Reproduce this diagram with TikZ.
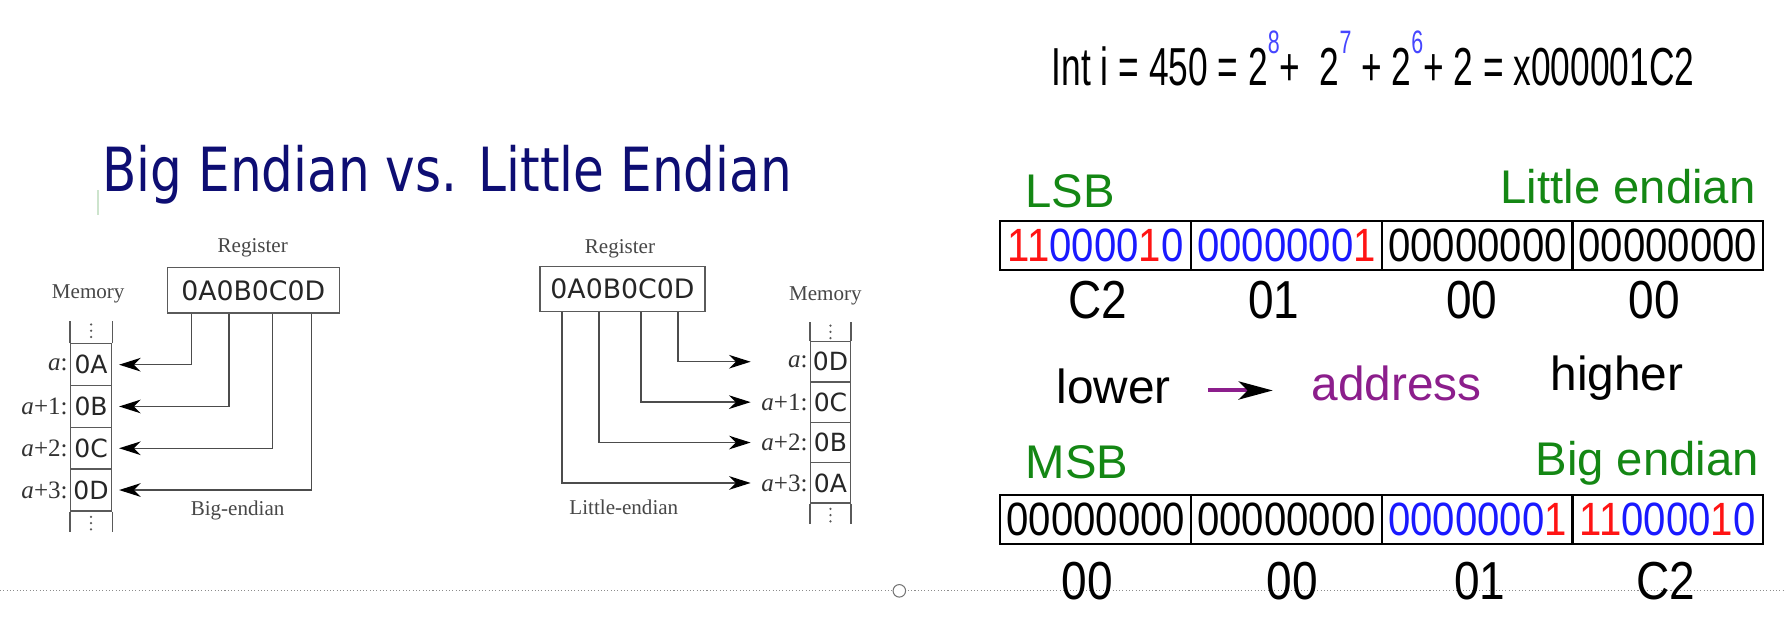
\documentclass[tikz,border=0pt]{standalone}
\usepackage{fontspec}
\setmainfont{Liberation Serif}
\newfontfamily\titlefont[FakeStretch=0.822]{DejaVu Sans}
\newfontfamily\vera{DejaVu Sans}
\newfontfamily\arial{Liberation Sans}
\newfontfamily\arialn[FakeStretch=0.86]{Liberation Sans}
\newfontfamily\eqfont[FakeStretch=0.66]{Liberation Sans}
\usetikzlibrary{arrows.meta}

\definecolor{navy}{RGB}{14,14,115}
\definecolor{lsbgreen}{RGB}{20,135,20}
\definecolor{bitred}{RGB}{255,20,20}
\definecolor{bitblue}{RGB}{25,25,255}
\definecolor{supblue}{RGB}{70,70,255}
\definecolor{addrpurple}{RGB}{140,30,140}
\definecolor{diagray}{RGB}{90,90,90}
\definecolor{artgreen}{RGB}{205,228,205}

\newcommand{\fsz}[1]{\fontsize{#1}{#1}\selectfont}
\newcommand{\bitR}[1]{\textcolor{bitred}{#1}}
\newcommand{\bitB}[1]{\textcolor{bitblue}{#1}}
\newcommand{\supnum}[1]{\raisebox{28pt}{\fsz{28.5}\textcolor{supblue}{#1}}}

\tikzset{
  txt/.style={inner sep=0pt, outer sep=0pt},
  serlbl/.style={txt, anchor=base, font=\fsz{18.5}, text=black!72},
  regbox/.style={draw=diagray, line width=1.3pt, inner sep=0pt, minimum height=40pt, font=\vera\fsz{23.5}, text=black!85},
  memcell/.style={draw=diagray, line width=1.2pt, inner sep=0pt, font=\vera\fsz{22}, text=black!85},
  addrlbl/.style={txt, anchor=east, font=\fsz{22}, text=black!80},
  colline/.style={draw=diagray, line width=1.2pt},
  dotc/.style={fill=black!65, draw=none},
  conn/.style={draw=black!70, line width=1.3pt, -{Stealth[length=19pt,width=12pt,inset=6pt,color=black]}},
  grn/.style={txt, font=\arial\fsz{41.5}, text=lsbgreen},
  word/.style={txt, font=\arial\fsz{42}},
  bitcell/.style={draw=black, line width=1.7pt, inner sep=0pt, minimum width=167.5pt, minimum height=43pt, font=\arialn\fsz{41}},
  bytelbl/.style={txt, anchor=base, font=\arialn\fsz{47}},
}

\begin{document}
\begin{tikzpicture}[x=1pt,y=-1pt]
\fill[white] (0,0) rectangle (1568,547.3);
\useasboundingbox (0,0) rectangle (1568,547.3);

% separator line and knob
\draw[black!45, dotted, line width=0.9pt] (0,519) -- (1568,519);
\node[circle, draw=black!55, fill=white, line width=0.9pt, minimum size=11pt, inner sep=0pt] (knob) at (790,519) {};

% faint artifact
\draw[artgreen, line width=1.5pt] (86,167) -- (86,189);

% title
\node[txt, anchor=base west, font=\titlefont\fsz{53.5}, text=navy] (title) at (90,168.4) {Big Endian vs. Little Endian};

% ===== left diagram (big-endian) =====
\node[serlbl] (regLlbl) at (222,222) {Register};
\node[regbox, minimum width=151pt] (regL) at (222.5,255) {0A0B0C0D};
\node[serlbl] (memLlbl) at (77.5,262) {Memory};

\foreach \i/\v/\yy in {0/0A/320.35,1/0B/357.05,2/0C/393.75,3/0D/430.45}{
  \node[memcell, minimum width=36pt, minimum height=36.7pt] (mL\i) at (80,\yy) {\v};
}
\draw[colline] (mL0.north west) -- ++(0,-19.4);
\draw[colline] (mL0.north east) -- ++(0,-19.4);
\draw[colline] (mL3.south west) -- ++(0,18.2);
\draw[colline] (mL3.south east) -- ++(0,18.2);
\foreach \yy in {285,290.5,296,454,459.5,465}{\fill[dotc] (80,\yy) circle (1.1pt);}

\node[addrlbl] (aL0) at ([xshift=-2pt]mL0.west) {\textit{a}:};
\node[addrlbl] (aL1) at ([xshift=-2pt]mL1.west) {\textit{a}+1:};
\node[addrlbl] (aL2) at ([xshift=-2pt]mL2.west) {\textit{a}+2:};
\node[addrlbl] (aL3) at ([xshift=-2pt]mL3.west) {\textit{a}+3:};

\draw[conn, shorten >=6pt] ([xshift=22pt]regL.south west) |- (mL0.east);
\draw[conn, shorten >=6pt] ([xshift=55pt]regL.south west) |- (mL1.east);
\draw[conn, shorten >=6pt] ([xshift=93pt]regL.south west) |- (mL2.east);
\draw[conn, shorten >=6pt] ([xshift=127.3pt]regL.south west) |- (mL3.east);

\node[serlbl] (bigLbl) at (208.7,453) {Big-endian};

% ===== right diagram (little-endian) =====
\node[serlbl] (regRlbl) at (544.6,223) {Register};
\node[regbox, minimum width=145pt, minimum height=39.6pt] (regR) at (546.8,254) {0A0B0C0D};
\node[serlbl] (memRlbl) at (725,264) {Memory};

\foreach \i/\v/\yy in {0/0D/317.75,1/0C/353.25,2/0B/388.75,3/0A/424.25}{
  \node[memcell, minimum width=35pt, minimum height=35.5pt] (mR\i) at (729.5,\yy) {\v};
}
\draw[colline] (mR0.north west) -- ++(0,-16.5);
\draw[colline] (mR0.north east) -- ++(0,-16.5);
\draw[colline] (mR3.south west) -- ++(0,18);
\draw[colline] (mR3.south east) -- ++(0,18);
\foreach \yy in {286,291.5,297,447,452.5,458}{\fill[dotc] (729.5,\yy) circle (1.1pt);}

\node[addrlbl] (aR0) at ([xshift=-2pt]mR0.west) {\textit{a}:};
\node[addrlbl] (aR1) at ([xshift=-2pt]mR1.west) {\textit{a}+1:};
\node[addrlbl] (aR2) at ([xshift=-2pt]mR2.west) {\textit{a}+2:};
\node[addrlbl] (aR3) at ([xshift=-2pt]mR3.west) {\textit{a}+3:};

\draw[conn, shorten >=52pt] ([xshift=122.1pt]regR.south west) |- (mR0.west);
\draw[conn, shorten >=52pt] ([xshift=89.3pt]regR.south west) |- (mR1.west);
\draw[conn, shorten >=52pt] ([xshift=52.7pt]regR.south west) |- (mR2.west);
\draw[conn, shorten >=52pt] ([xshift=20pt]regR.south west) |- (mR3.west);

\node[serlbl] (litLbl) at (548,452) {Little-endian};

% ===== right part =====
\node[txt, anchor=base west, font=\eqfont\fsz{47}] (eq) at (924,74.7)
  {Int i = 450 = 2\supnum{8}+~ 2\supnum{7} + 2\supnum{6}+ 2 = x000001C2};

\node[grn, anchor=base west] (lsb) at (901,182) {LSB};
\node[grn, anchor=base east] (lit) at (1542,179) {Little endian};

\node[bitcell] (t1) at (962.5,215.5) {\bitR{11}\bitB{0000}\bitR{1}\bitB{0}};
\node[bitcell] (t2) at (1130,215.5) {\bitB{0000000}\bitR{1}};
\node[bitcell] (t3) at (1298,215.5) {00000000};
\node[bitcell] (t4) at (1465,215.5) {00000000};

\node[bytelbl] (tl1) at (964,280) {C2};
\node[bytelbl] (tl2) at (1119,280) {01};
\node[bytelbl] (tl3) at (1293,280) {00};
\node[bytelbl] (tl4) at (1453,280) {00};

\node[word, anchor=base west] (lower) at (928,354) {lower};
\coordinate (arS) at (1061,343);
\coordinate (arE) at (1118,343);
\draw[addrpurple, line width=3.5pt, -{Stealth[length=30pt,width=16pt,inset=8pt,color=black]}] (arS) -- (arE);
\node[word, anchor=base west, text=addrpurple] (addr) at (1152,352) {address};
\node[word, anchor=base west] (higher) at (1362,343) {higher};

\node[grn, anchor=base west] (msb) at (901,420) {MSB};
\node[grn, anchor=base east] (big) at (1545,418) {Big endian};

\node[bitcell] (b1) at (962.5,456.5) {00000000};
\node[bitcell] (b2) at (1130,456.5) {00000000};
\node[bitcell] (b3) at (1298,456.5) {\bitB{0000000}\bitR{1}};
\node[bitcell] (b4) at (1465,456.5) {\bitR{11}\bitB{0000}\bitR{1}\bitB{0}};

\node[bytelbl] (bl1) at (955,527) {00};
\node[bytelbl] (bl2) at (1135,527) {00};
\node[bytelbl] (bl3) at (1300,527) {01};
\node[bytelbl] (bl4) at (1463,527) {C2};
\end{tikzpicture}
\end{document}
